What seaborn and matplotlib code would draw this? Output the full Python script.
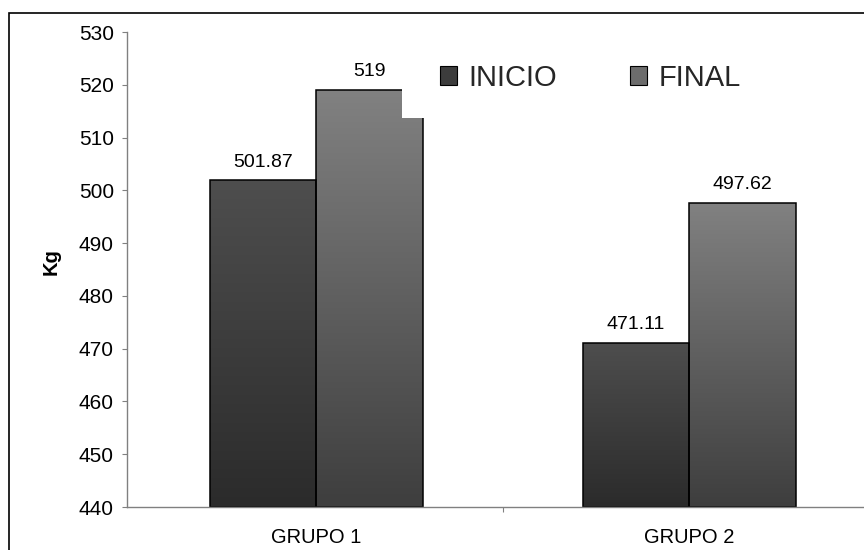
import numpy as np
import pandas as pd
import matplotlib
matplotlib.use("Agg")
import matplotlib.pyplot as plt
from matplotlib.patches import Rectangle, Patch
from matplotlib.colors import LinearSegmentedColormap
import seaborn as sns

# Data
grupos = ["GRUPO 1", "GRUPO 2"]
series = ["INICIO", "FINAL"]
inicio = [501.87, 471.11]
final = [519.0, 497.62]
y_ticks = [440, 450, 460, 470, 480, 490, 500, 510, 520, 530]

df = pd.DataFrame({
    "grupo": grupos * 2,
    "momento": [series[0]] * len(inicio) + [series[1]] * len(final),
    "kg": inicio + final,
})

sns.set_theme(style="white")
plt.rcParams["font.family"] = ["Liberation Sans", "DejaVu Sans"]

W, H = 864, 550
fig = plt.figure(figsize=(W / 100, H / 100), dpi=100)
fig.patch.set_facecolor("white")
ax = fig.add_axes([127 / W, 1 - 507 / H, 748.6 / W, 475 / H])

base = y_ticks[0]
palette = {"INICIO": "#3c3c3c", "FINAL": "#606060"}
sns.barplot(data=df, x="grupo", y="kg", hue="momento", order=grupos,
            hue_order=series, palette=palette, width=0.571, gap=0,
            edgecolor="black", linewidth=1.1, legend=False, errorbar=None,
            ax=ax)

# gradient fills (dark at the base, lighter at the top) per series
grad = {
    "INICIO": LinearSegmentedColormap.from_list("ini", ["#2b2b2b", "#4e4e4e"]),
    "FINAL": LinearSegmentedColormap.from_list("fin", ["#3e3e3e", "#818181"]),
}
ramp = np.linspace(0, 1, 256).reshape(-1, 1)
for name, container in zip(series, ax.containers):
    for bar in container.patches:
        top = bar.get_y() + bar.get_height()
        bar.set_y(base)
        bar.set_height(top - base)
        x0 = bar.get_x()
        im = ax.imshow(ramp, extent=[x0, x0 + bar.get_width(), base, top],
                       origin="lower", cmap=grad[name], aspect="auto",
                       zorder=bar.get_zorder() - 0.1, interpolation="bilinear")
        im.set_clip_path(bar)
        bar.set_facecolor("none")

for vals, container in zip([inicio, final], ax.containers):
    ax.bar_label(container, labels=[f"{v:g}" for v in vals], padding=7,
                 fontsize=14, color="black")

ax.set_xlim(-0.507, 1.5)
ax.set_ylim(base, y_ticks[-1])
ax.set_yticks(y_ticks)
ax.set_xticks(range(len(grupos)))
ax.set_xticklabels(grupos)
ax.set_xticks([0.5], minor=True)

ax.tick_params(axis="y", which="major", direction="out", length=3.6, width=0.8,
               color="#808080", pad=5.8, labelsize=15, labelcolor="black", left=True)
ax.tick_params(axis="x", which="major", length=0, pad=15, labelsize=14.5,
               labelcolor="black")
ax.tick_params(axis="x", which="minor", direction="out", length=3.6, width=0.8,
               color="#808080", bottom=True)

for side in ("top", "right"):
    ax.spines[side].set_visible(False)
for side in ("left", "bottom"):
    ax.spines[side].set_color("#808080")
    ax.spines[side].set_linewidth(1.0)
ax.grid(False)

ax.set_xlabel("")
ax.set_ylabel("Kg", fontsize=14.5, fontweight="bold", color="black")
ax.yaxis.label.set_va("center")
ax.yaxis.set_label_coords(-0.1015, 0.516)

# legend area (white box over the plot)
box = Rectangle((402 / W, 1 - 118 / H), 1.0, 98 / H, transform=fig.transFigure,
                facecolor="white", edgecolor="none", zorder=4, clip_on=False)
ax.add_artist(box)
handles = [Patch(facecolor="#3c3c3c", edgecolor="black", linewidth=0.8),
           Patch(facecolor="#6c6c6c", edgecolor="black", linewidth=0.8)]
leg = ax.legend(handles, series, loc="center left",
                bbox_to_anchor=(440 / W, 1 - 78 / H), bbox_transform=fig.transFigure,
                ncol=2, frameon=False, fontsize=21, handlelength=0.58,
                handleheight=0.62, handletextpad=0.4, columnspacing=2.5,
                borderpad=0, borderaxespad=0)
leg.set_zorder(6)

# chart area border
fig.add_artist(Rectangle((9 / W, -0.1), 2.0, 1.1 - 13 / H, transform=fig.transFigure,
                         facecolor="none", edgecolor="black", linewidth=1.2, zorder=10))

fig.savefig("out.png", dpi=100, facecolor="white")
